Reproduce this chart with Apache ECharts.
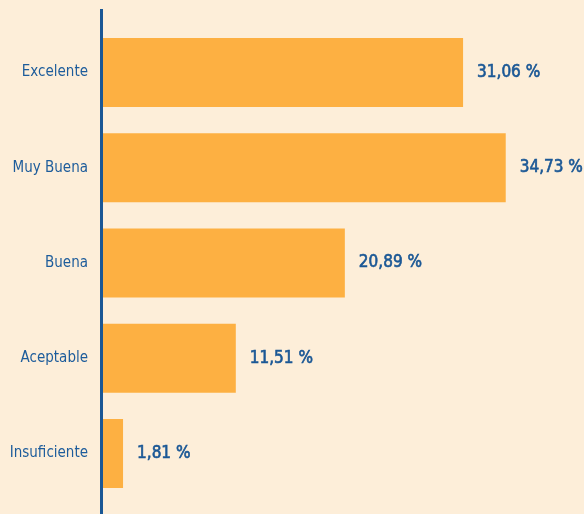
<!DOCTYPE html>
<html>
<head>
<meta charset="utf-8">
<script src="https://cdn.jsdelivr.net/npm/echarts@6/dist/echarts.min.js"></script>
<style>
html,body{margin:0;padding:0;background:#fdeed9;}
#c{width:584px;height:514px;}
</style>
</head>
<body>
<div id="c"></div>
<script>
var categories = ['Excelente', 'Muy Buena', 'Buena', 'Aceptable', 'Insuficiente'];
var values = [31.06, 34.73, 20.89, 11.51, 1.81];

var FONT = '"DejaVu Sans Condensed", "Liberation Sans Narrow", sans-serif';
var chart = echarts.init(document.getElementById('c'));
chart.setOption({
  backgroundColor: '#fdeed9',
  animation: false,
  grid: { left: 102, right: 17, top: 25, bottom: 13 },
  xAxis: { type: 'value', min: 0, max: 40, show: false },
  yAxis: {
    type: 'category', data: categories, inverse: true,
    axisLine: { show: false }, axisTick: { show: false },
    axisLabel: { color: '#1d5c9b', fontFamily: FONT, fontSize: 15, margin: 14 }
  },
  graphic: [{
    type: 'line', shape: { x1: 101.5, y1: 9, x2: 101.5, y2: 514 },
    style: { stroke: '#1a5795', lineWidth: 3 }, z: 10
  }],
  series: [{
    type: 'bar', data: values, barWidth: 69,
    itemStyle: { color: '#fdb042' },
    label: {
      show: true, position: 'right', distance: 14,
      color: '#1a5795', fontFamily: FONT, fontWeight: 'normal', fontSize: 17,
      textBorderColor: '#1a5795', textBorderWidth: 0.6,
      formatter: function (p) { return p.value.toFixed(2).replace('.', ',') + ' %'; }
    }
  }]
});
</script>
</body>
</html>
